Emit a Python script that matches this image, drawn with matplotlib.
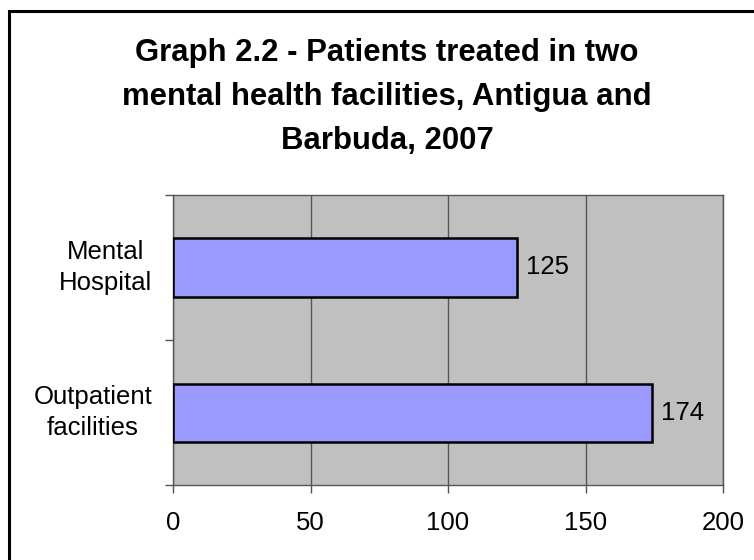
import matplotlib
matplotlib.use("Agg")
import matplotlib.pyplot as plt
from matplotlib.patches import Rectangle

categories = ["Outpatient\nfacilities", "Mental\nHospital"]
values = [174, 125]
xticks = [0, 50, 100, 150, 200]
title = "Graph 2.2 - Patients treated in two\nmental health facilities, Antigua and\nBarbuda, 2007"

plt.rcParams['font.family'] = ['Liberation Sans', 'DejaVu Sans']

W, H = 754, 560
fig = plt.figure(figsize=(W/100, H/100), dpi=100)
fig.patch.set_facecolor('white')

# outer chart border (extends beyond right and bottom edges)
fig.add_artist(Rectangle((9/W, -0.1), 1.2, 1 - 11/H + 0.1, transform=fig.transFigure,
                         fill=False, edgecolor='black', linewidth=2.2))

ax = fig.add_axes([173/W, 1 - 485/H, (723-173)/W, (485-195)/H])
ax.set_facecolor('#C0C0C0')

gridc = '#555555'
ypos = list(range(len(categories)))
ax.barh(ypos, values, height=0.4, color='#9999FF', edgecolor='black', linewidth=1.8, zorder=3)
for y, v in zip(ypos, values):
    ax.annotate(str(v), (v, y), xytext=(6.5, 0), textcoords='offset points',
                va='center', ha='left', fontsize=18.5, color='black')

ax.set_xlim(0, 200)
ax.set_ylim(-0.5, 1.5)
ax.set_xticks(xticks)
ax.set_xticklabels([str(t) for t in xticks])
ax.set_yticks([-0.5, 0.5, 1.5])
ax.set_yticklabels([])
ax.set_yticks(ypos, minor=True)
ax.set_yticklabels(categories, minor=True, ha='right', multialignment='center')
for lab in ax.get_yticklabels(minor=True):
    lab.set_linespacing(1.42)
    lab.set_verticalalignment('center')
ax.tick_params(axis='y', which='minor', length=0, pad=15, labelsize=18.5)
ax.tick_params(axis='y', which='major', length=6, width=1, color=gridc, direction='out')
ax.tick_params(axis='x', length=6, width=1, color=gridc, direction='out', pad=13, labelsize=18.5)

ax.xaxis.grid(True, color=gridc, linewidth=1)
ax.set_axisbelow(True)
for s in ax.spines.values():
    s.set_color(gridc)
    s.set_linewidth(1)

fig.text(387/W, 1 - 97/H, title, ha='center', va='center', fontsize=22.4,
         fontweight='bold', linespacing=1.6)

fig.savefig('out.png', dpi=100)
